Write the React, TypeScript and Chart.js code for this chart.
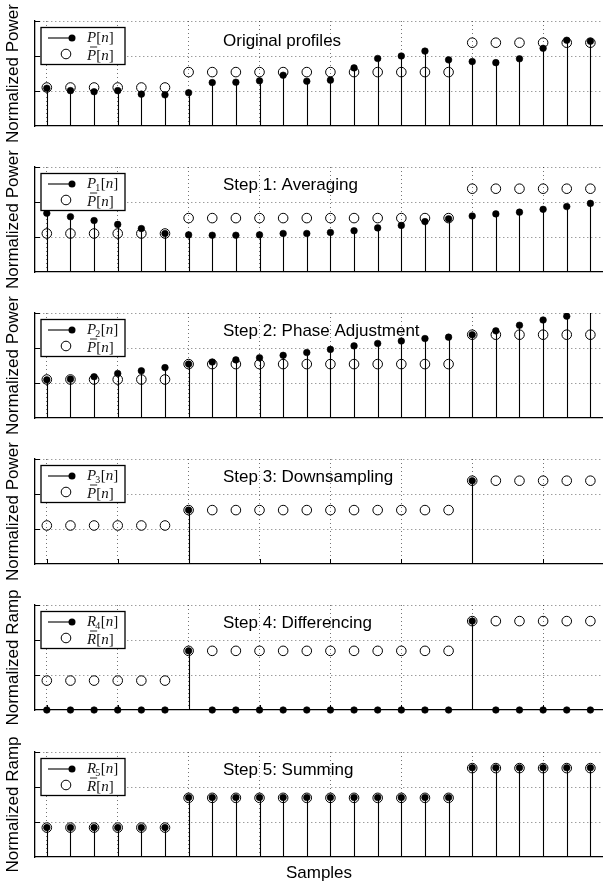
import React, { useEffect, useRef } from "react";
import { Chart, registerables } from "chart.js";

Chart.register(...registerables);

// ---------- data ----------
const SAMPLES = [0, 1, 2, 3, 4, 5, 6, 7, 8, 9, 10, 11, 12, 13, 14, 15, 16, 17, 18, 19, 20, 21, 22, 23];
const X_GRID_TICKS = [0, 3, 6, 9, 12, 15, 18, 21];
const Y_GRID_TICKS = [1, 2, 3];

const P_ORIG = [1.08, 1.01, 0.98, 1.01, 0.91, 0.89, 0.95, 1.24, 1.25, 1.29, 1.45, 1.28, 1.31, 1.66, 1.93, 2.0, 2.14, 1.89, 1.84, 1.81, 1.92, 2.22, 2.45, 2.42];
const P_BAR = [1.1, 1.1, 1.1, 1.1, 1.1, 1.1, 1.54, 1.54, 1.54, 1.54, 1.54, 1.54, 1.54, 1.54, 1.54, 1.54, 1.54, 1.54, 2.38, 2.38, 2.38, 2.38, 2.38, 2.38];
const P1 = [1.68, 1.58, 1.47, 1.36, 1.24, 1.1, 1.06, 1.05, 1.05, 1.06, 1.1, 1.1, 1.13, 1.18, 1.26, 1.33, 1.44, 1.52, 1.6, 1.66, 1.71, 1.79, 1.87, 1.96];
const P2 = [1.09, 1.11, 1.18, 1.27, 1.35, 1.44, 1.54, 1.6, 1.66, 1.72, 1.79, 1.87, 1.96, 2.06, 2.13, 2.2, 2.27, 2.31, 2.38, 2.49, 2.65, 2.8, 2.91, 3.3];
const P3 = [null, null, null, null, null, null, 1.54, null, null, null, null, null, null, null, null, null, null, null, 2.38, null, null, null, null, null];
const R4 = [0, 0, 0, 0, 0, 0, 1.69, 0, 0, 0, 0, 0, 0, 0, 0, 0, 0, 0, 2.54, 0, 0, 0, 0, 0];
const R_BAR = [0.84, 0.84, 0.84, 0.84, 0.84, 0.84, 1.69, 1.69, 1.69, 1.69, 1.69, 1.69, 1.69, 1.69, 1.69, 1.69, 1.69, 1.69, 2.54, 2.54, 2.54, 2.54, 2.54, 2.54];
const R5 = [0.84, 0.84, 0.84, 0.84, 0.84, 0.84, 1.7, 1.7, 1.7, 1.7, 1.7, 1.7, 1.7, 1.7, 1.7, 1.7, 1.7, 1.7, 2.55, 2.55, 2.55, 2.55, 2.55, 2.55];

const TITLES = ["Original profiles", "Step 1: Averaging", "Step 2: Phase Adjustment", "Step 3: Downsampling", "Step 4: Differencing", "Step 5: Summing"];
const Y_LABELS = ["Normalized Power", "Normalized Power", "Normalized Power", "Normalized Power", "Normalized Ramp", "Normalized Ramp"];
const X_LABEL = "Samples";
const STEM_SERIES = [P_ORIG, P1, P2, P3, R4, R5];
const REF_SERIES = [P_BAR, P_BAR, P_BAR, P_BAR, R_BAR, R_BAR];
const STEM_SYMBOL = ["P", "P", "P", "P", "R", "R"];
const STEM_SUB = ["", "1", "2", "3", "4", "5"];
const REF_SYMBOL = ["P", "P", "P", "P", "R", "R"];

// ---------- layout ----------
const W = 608;
const PLOT_TOPS = [21, 167, 313, 459, 605, 752];
const PLOT_H = 105;
const PAD_TOP = 21;
const SANS = '"Liberation Sans", Arial, Helvetica, sans-serif';
const SERIF = '"Liberation Serif", "Times New Roman", serif';
const GRID_COLOR = "rgba(0,0,0,0.55)";

function drawSymbol(ctx: CanvasRenderingContext2D, x: number, base: number, sym: string, sub: string, bar: boolean) {
  ctx.fillStyle = "#111";
  ctx.textBaseline = "alphabetic";
  ctx.textAlign = "left";
  ctx.font = `italic 15px ${SERIF}`;
  ctx.fillText(sym, x, base);
  const w = ctx.measureText(sym).width;
  if (bar) {
    ctx.save();
    ctx.strokeStyle = "#111";
    ctx.lineWidth = 0.9;
    ctx.beginPath();
    ctx.moveTo(x + 3, base - 12.5);
    ctx.lineTo(x + w + 1, base - 12.5);
    ctx.stroke();
    ctx.restore();
  }
  let cx = x + w;
  if (sub) {
    ctx.font = `10px ${SERIF}`;
    ctx.fillText(sub, cx - 1, base + 3);
    cx += ctx.measureText(sub).width - 0.5;
  }
  ctx.font = `15px ${SERIF}`;
  ctx.fillText("[", cx, base);
  cx += ctx.measureText("[").width;
  ctx.font = `italic 15px ${SERIF}`;
  ctx.fillText("n", cx, base);
  cx += ctx.measureText("n").width;
  ctx.font = `15px ${SERIF}`;
  ctx.fillText("]", cx, base);
}

function Panel({ idx }: { idx: number }) {
  const ref = useRef<HTMLCanvasElement | null>(null);
  const isLast = idx === TITLES.length - 1;
  const canvasTop = PLOT_TOPS[idx] - PAD_TOP;
  const height = isLast ? 886 - canvasTop : 146;

  useEffect(() => {
    const stem = STEM_SERIES[idx];
    const refVals = REF_SERIES[idx];

    const decor = {
      id: "panelDecor",
      beforeDatasetsDraw(chart: any) {
        const { ctx, chartArea: a, scales } = chart;
        const x = scales.x;
        const y = scales.y;
        ctx.save();
        ctx.beginPath();
        ctx.rect(a.left, a.top, a.right - a.left, a.bottom - a.top);
        ctx.clip();
        ctx.strokeStyle = "#000";
        ctx.lineWidth = 1.1;
        stem.forEach((v: number | null, i: number) => {
          if (v == null || v === 0) return;
          const px = Math.round(x.getPixelForValue(SAMPLES[i])) + 0.5;
          ctx.beginPath();
          ctx.moveTo(px, y.getPixelForValue(0));
          ctx.lineTo(px, y.getPixelForValue(v));
          ctx.stroke();
        });
        ctx.restore();
      },
      afterDraw(chart: any) {
        const { ctx, chartArea: a, scales } = chart;
        const x = scales.x;
        const y = scales.y;
        ctx.save();
        // inward tick marks
        ctx.strokeStyle = "#000";
        ctx.lineWidth = 1;
        Y_GRID_TICKS.forEach((v) => {
          const py = Math.round(y.getPixelForValue(v)) + 0.5;
          ctx.beginPath();
          ctx.moveTo(a.left, py);
          ctx.lineTo(a.left + 5, py);
          ctx.stroke();
        });
        X_GRID_TICKS.forEach((v) => {
          const px = Math.round(x.getPixelForValue(v)) + 0.5;
          ctx.beginPath();
          ctx.moveTo(px, a.bottom);
          ctx.lineTo(px, a.bottom - 5);
          ctx.stroke();
        });

        // title
        ctx.fillStyle = "#000";
        ctx.font = `17px ${SANS}`;
        ctx.textAlign = "left";
        ctx.textBaseline = "middle";
        ctx.fillText(TITLES[idx], 223, a.top + (idx === 0 ? 20.5 : 18));

        // y label
        ctx.save();
        ctx.translate(13, (a.top + a.bottom) / 2);
        ctx.rotate(-Math.PI / 2);
        ctx.textAlign = "center";
        ctx.textBaseline = "middle";
        ctx.font = `17px ${SANS}`;
        ctx.fillText(Y_LABELS[idx], 0, 0);
        ctx.restore();

        // x label
        if (isLast) {
          ctx.textAlign = "center";
          ctx.textBaseline = "middle";
          ctx.font = `17px ${SANS}`;
          ctx.fillText(X_LABEL, 319, a.bottom + 16.5);
        }

        // legend
        const bx = 41;
        const by = a.top + 6.5;
        ctx.fillStyle = "#fff";
        ctx.fillRect(bx, by, 84, 37);
        ctx.strokeStyle = "#000";
        ctx.lineWidth = 1.3;
        ctx.strokeRect(bx, by, 84, 37);
        const r1 = by + 10.5;
        const r2 = by + 26.5;
        ctx.lineWidth = 1.1;
        ctx.beginPath();
        ctx.moveTo(48, r1);
        ctx.lineTo(72, r1);
        ctx.stroke();
        ctx.fillStyle = "#000";
        ctx.beginPath();
        ctx.arc(72, r1, 3.5, 0, Math.PI * 2);
        ctx.fill();
        ctx.lineWidth = 1;
        ctx.beginPath();
        ctx.arc(66, r2, 4.8, 0, Math.PI * 2);
        ctx.stroke();
        drawSymbol(ctx, 87, by + 14.5, STEM_SYMBOL[idx], STEM_SUB[idx], false);
        drawSymbol(ctx, 87, by + 32, REF_SYMBOL[idx], "", true);
        ctx.restore();
      },
    };

    const toPoints = (arr: (number | null)[]) =>
      SAMPLES.map((s, i) => ({ x: s, y: arr[i] })).filter((p) => p.y != null);

    const chart = new Chart(ref.current as HTMLCanvasElement, {
      type: "scatter",
      data: {
        datasets: [
          {
            label: "stem",
            data: toPoints(stem) as any,
            pointRadius: 3.3,
            pointBorderWidth: 0.6,
            pointBackgroundColor: "#000",
            pointBorderColor: "#000",
            showLine: false,
            clip: { left: 10, right: 10, top: 0, bottom: 10 } as any,
          },
          {
            label: "ref",
            data: toPoints(refVals) as any,
            pointRadius: 4.8,
            pointBorderWidth: 1,
            pointBackgroundColor: "rgba(0,0,0,0)",
            pointBorderColor: "#000",
            showLine: false,
            clip: { left: 10, right: 10, top: 10, bottom: 10 } as any,
          },
        ],
      },
      options: {
        responsive: false,
        maintainAspectRatio: false,
        devicePixelRatio: 1,
        animation: false,
        events: [],
        layout: { padding: { left: 35, right: 0, top: PAD_TOP, bottom: height - PAD_TOP - PLOT_H } },
        plugins: { legend: { display: false }, tooltip: { enabled: false }, title: { display: false } },
        scales: {
          x: {
            type: "linear",
            position: "bottom",
            min: -0.5,
            max: 23.5,
            ticks: { display: false },
            grid: { color: GRID_COLOR, lineWidth: 1, drawTicks: false },
            border: { display: true, color: "#000", width: 1.3, dash: [1, 3] },
            afterBuildTicks: (s: any) => {
              s.ticks = X_GRID_TICKS.map((v) => ({ value: v }));
            },
            afterFit: (s: any) => {
              s.height = 0;
            },
          },
          y: {
            type: "linear",
            position: "left",
            min: 0,
            max: 3,
            ticks: { display: false },
            grid: { color: GRID_COLOR, lineWidth: 1, drawTicks: false },
            border: { display: true, color: "#000", width: 1.3, dash: [1, 3] },
            afterBuildTicks: (s: any) => {
              s.ticks = Y_GRID_TICKS.map((v) => ({ value: v }));
            },
            afterFit: (s: any) => {
              s.width = 0;
            },
          },
        },
      } as any,
      plugins: [decor],
    });
    return () => chart.destroy();
  }, []);

  return (
    <canvas
      ref={ref}
      width={W}
      height={height}
      style={{ position: "absolute", left: 0, top: canvasTop, width: W, height, display: "block" }}
    />
  );
}

export default function App() {
  return (
    <div style={{ position: "absolute", left: 0, top: 0, width: W, height: 886, background: "#fff", overflow: "hidden" }}>
      {TITLES.map((_, i) => (
        <Panel key={i} idx={i} />
      ))}
    </div>
  );
}
